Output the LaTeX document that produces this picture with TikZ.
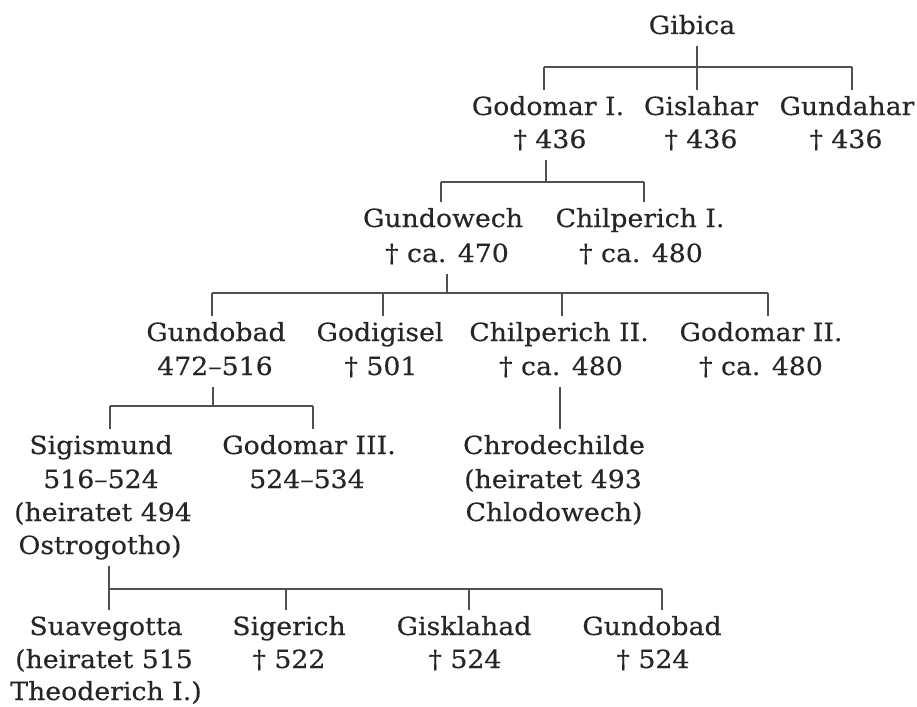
\documentclass[tikz,border=0pt]{standalone}
\usepackage{fontspec}
\setmainfont{DejaVu Serif}[FakeStretch=1.07,FakeBold=0.35]
\definecolor{ink}{HTML}{262626}
\definecolor{rule}{HTML}{505050}
\begin{document}
\begin{tikzpicture}[x=1pt,y=-1pt,
  txt/.style={anchor=base, inner sep=0pt, outer sep=0pt, text height=25pt, text depth=12pt,
              font=\fontsize{25}{34}\selectfont, text=ink},
  link/.style={draw=rule, line width=1.5pt}]
\useasboundingbox (0,0) rectangle (917,706);

% Row 0
\node[txt] (gib) at (692,34) {Gibica};
% Row 1
\node[txt] (god1)  at (548,115) {Godomar I.};
\node[txt] (god1d) at (550,148) {† 436};
\node[txt] (gis)   at (701,115) {Gislahar};
\node[txt] (gisd)  at (701,148) {† 436};
\node[txt] (gun)   at (847,115) {Gundahar};
\node[txt] (gund)  at (846,148) {† 436};
% Row 2
\node[txt] (gw)   at (443,227) {Gundowech};
\node[txt] (gwd)  at (447,262) {† ca. 470};
\node[txt] (ch1)  at (640,227) {Chilperich I.};
\node[txt] (ch1d) at (641,262) {† ca. 480};
% Row 3
\node[txt] (gb)   at (216,341) {Gundobad};
\node[txt] (gbd)  at (215,375) {472–516};
\node[txt] (gd)   at (380,341) {Godigisel};
\node[txt] (gdd)  at (381,375) {† 501};
\node[txt] (ch2)  at (559,341) {Chilperich II.};
\node[txt] (ch2d) at (561,375) {† ca. 480};
\node[txt] (go2)  at (761,341) {Godomar II.};
\node[txt] (go2d) at (761,375) {† ca. 480};
% Row 4
\node[txt] (sig)  at (101,454) {Sigismund};
\node[txt] (sig2) at (101,488) {516–524};
\node[txt] (sig3) at (103,521) {(heiratet 494};
\node[txt] (sig4) at (100,554) {Ostrogotho)};
\node[txt] (go3)  at (309,454) {Godomar III.};
\node[txt] (go3d) at (307,488) {524–534};
\node[txt] (chr)  at (554,454) {Chrodechilde};
\node[txt] (chr2) at (553,488) {(heiratet 493};
\node[txt] (chr3) at (554,521) {Chlodowech)};
% Row 5
\node[txt] (sua)  at (106,635) {Suavegotta};
\node[txt] (sua2) at (104,668) {(heiratet 515};
\node[txt] (sua3) at (106,700) {Theoderich I.)};
\node[txt] (sge)  at (289,635) {Sigerich};
\node[txt] (sged) at (289,668) {† 522};
\node[txt] (gk)   at (464,635) {Gisklahad};
\node[txt] (gkd)  at (465,668) {† 524};
\node[txt] (gb2)  at (652,635) {Gundobad};
\node[txt] (gb2d) at (653,668) {† 524};

% Family of Gibica
\coordinate (a0) at (697,67);
\coordinate (a1) at (544,67);
\coordinate (a2) at (697,67);
\coordinate (a3) at (852,67);
\draw[link] (gib.south -| a0) -- (a0);
\draw[link] (a1) -- (a3);
\draw[link] (a1) -- (a1 |- god1.north);
\draw[link] (a2) -- (a2 |- gis.north);
\draw[link] (a3) -- (a3 |- gun.north);

% Family of Godomar I.
\coordinate (b0) at (546,182);
\coordinate (b1) at (441,182);
\coordinate (b2) at (644,182);
\draw[link] (god1d.south -| b0) -- (b0);
\draw[link] (b1) -- (b2);
\draw[link] (b1) -- (b1 |- gw.north);
\draw[link] (b2) -- (b2 |- ch1.north);

% Family of Gundowech
\coordinate (c0) at (447,293);
\coordinate (c1) at (212,293);
\coordinate (c2) at (383,293);
\coordinate (c3) at (562,293);
\coordinate (c4) at (768,293);
\draw[link] (gwd.south -| c0) -- (c0);
\draw[link] (c1) -- (c4);
\draw[link] (c1) -- (c1 |- gb.north);
\draw[link] (c2) -- (c2 |- gd.north);
\draw[link] (c3) -- (c3 |- ch2.north);
\draw[link] (c4) -- (c4 |- go2.north);

% Family of Gundobad
\coordinate (d0) at (213,406);
\coordinate (d1) at (110,406);
\coordinate (d2) at (313,406);
\draw[link] (gbd.south -| d0) -- (d0);
\draw[link] (d1) -- (d2);
\draw[link] (d1) -- (d1 |- sig.north);
\draw[link] (d2) -- (d2 |- go3.north);

% Chilperich II. -> Chrodechilde
\coordinate (e0) at (560,0);
\draw[link] (ch2d.south -| e0) -- (chr.north -| e0);

% Family of Sigismund
\coordinate (f0) at (109,589);
\coordinate (f1) at (109,589);
\coordinate (f2) at (286,589);
\coordinate (f3) at (469,589);
\coordinate (f4) at (662,589);
\draw[link] (sig4.south -| f0) -- (f0);
\draw[link] (f1) -- (f4);
\draw[link] (f1) -- (f1 |- sua.north);
\draw[link] (f2) -- (f2 |- sge.north);
\draw[link] (f3) -- (f3 |- gk.north);
\draw[link] (f4) -- (f4 |- gb2.north);
\end{tikzpicture}
\end{document}
